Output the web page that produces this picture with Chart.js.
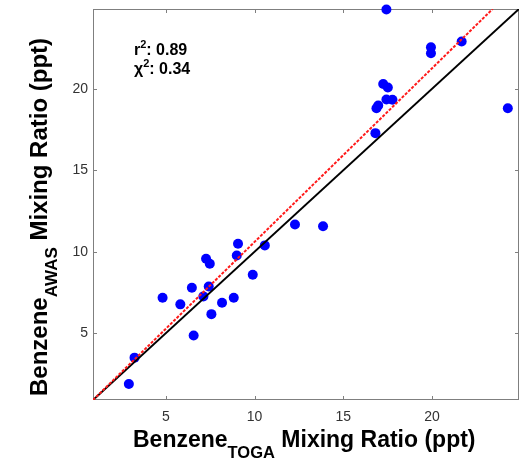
<!DOCTYPE html>
<html>
<head>
<meta charset="utf-8">
<script src="https://cdn.jsdelivr.net/npm/chart.js@4/dist/chart.umd.min.js"></script>
<style>
html,body{margin:0;padding:0;background:#fff;}
#wrap{position:relative;width:520px;height:462px;}
</style>
</head>
<body>
<div id="wrap"><canvas id="c" width="520" height="462"></canvas></div>
<script>
// ---- data ----
const togaValues = [17.43, 21.67, 19.94, 19.94, 17.25, 17.51, 17.43, 17.77, 16.97, 16.87, 24.27, 16.81,
  12.28, 13.86, 10.58, 9.07, 9.00, 7.27, 7.48, 9.90, 6.47, 7.42, 4.82, 7.12, 8.83, 5.82, 8.17, 7.57, 6.57, 3.24, 2.92];
const awasValues = [24.87, 22.90, 22.55, 22.18, 20.30, 20.08, 19.34, 19.33, 18.98, 18.81, 18.81, 17.28,
  11.67, 11.57, 10.39, 10.49, 9.77, 9.57, 9.26, 8.59, 7.79, 7.87, 7.18, 7.26, 7.18, 6.77, 6.87, 6.17, 4.86, 3.50, 1.88];
const axisRange = [0.9, 24.9];
const tickValues = [5, 10, 15, 20];
const fitSlope = 1.066;
const fitIntercept = -0.06;
const statLabels = ["r", "\u03C7"];
const statValues = ["0.89", "0.34"];

const points = togaValues.map((x, i) => ({x: x, y: awasValues[i]}));
const oneToOne = axisRange.map(v => ({x: v, y: v}));
const fitX = [axisRange[0], (axisRange[1] - fitIntercept) / fitSlope];
const fitLine = fitX.map(x => ({x: x, y: fitSlope * x + fitIntercept}));

const FONT = "'Liberation Sans', Arial, Helvetica, sans-serif";
const AXIS_GRAY = '#7f7f7f';

const zeroPad = s => { s.paddingTop = 0; s.paddingBottom = 0; s.paddingLeft = 0; s.paddingRight = 0; };

const decor = {
  id: 'decor',
  beforeDatasetsDraw(chart) {
    const {ctx, chartArea: a, scales} = chart;
    ctx.save();
    ctx.strokeStyle = AXIS_GRAY;
    ctx.lineWidth = 1;
    ctx.strokeRect(a.left + 0.5, a.top + 0.5, a.right - a.left - 1, a.bottom - a.top - 1);
    const tl = 4;
    ctx.beginPath();
    tickValues.forEach(v => {
      const px = Math.round(scales.x.getPixelForValue(v)) + 0.5;
      ctx.moveTo(px, a.bottom); ctx.lineTo(px, a.bottom - tl);
      ctx.moveTo(px, a.top); ctx.lineTo(px, a.top + tl);
      const py = Math.round(scales.y.getPixelForValue(v)) + 0.5;
      ctx.moveTo(a.left, py); ctx.lineTo(a.left + tl, py);
      ctx.moveTo(a.right, py); ctx.lineTo(a.right - tl, py);
    });
    ctx.stroke();
    ctx.restore();
  },
  afterDraw(chart) {
    const {ctx} = chart;
    ctx.save();
    ctx.fillStyle = '#000';
    ctx.textBaseline = 'alphabetic';
    ctx.textAlign = 'left';
    const drawTitle = (main, sub, rest, bigSize, smallSize, subDrop) => {
      const big = "bold " + bigSize + "px " + FONT, small = "bold " + smallSize + "px " + FONT;
      let x = 0;
      ctx.font = big; ctx.fillText(main, x, 0); x += ctx.measureText(main).width;
      ctx.font = small; ctx.fillText(sub, x, subDrop); x += ctx.measureText(sub).width;
      ctx.font = big; ctx.fillText(rest, x, 0);
    };
    ctx.save();
    ctx.translate(133, 447);
    drawTitle("Benzene", "TOGA", " Mixing Ratio (ppt)", 23, 16.5, 11);
    ctx.restore();
    ctx.save();
    ctx.translate(47, 396);
    ctx.rotate(-Math.PI / 2);
    drawTitle("Benzene", "AWAS", " Mixing Ratio (ppt)", 24, 17, 10);
    ctx.restore();
    // stats annotation
    const sf = "bold 16px " + FONT, sup = "bold 11px " + FONT;
    statLabels.forEach((lab, i) => {
      let x = 134, y = 55 + i * 18.5;
      ctx.font = sf; ctx.fillText(lab, x, y); x += ctx.measureText(lab).width;
      ctx.font = sup; ctx.fillText("2", x, y - 7); x += ctx.measureText("2").width;
      ctx.font = sf; ctx.fillText(": " + statValues[i], x, y);
    });
    ctx.restore();
  }
};

new Chart(document.getElementById('c'), {
  type: 'scatter',
  data: {
    datasets: [
      {label: 'fit', type: 'line', data: fitLine, borderColor: '#ff1a1a', borderWidth: 2,
       borderDash: [3, 1.5], pointRadius: 0, fill: false, order: 1},
      {label: '1:1', type: 'line', data: oneToOne, borderColor: '#000', borderWidth: 2,
       pointRadius: 0, fill: false, order: 2},
      {label: 'obs', data: points, backgroundColor: '#0000ff', borderColor: '#0000ff',
       pointRadius: 5, pointHoverRadius: 5, borderWidth: 0, clip: false, order: 3}
    ]
  },
  options: {
    responsive: false,
    animation: false,
    events: [],
    layout: {autoPadding: false, padding: {left: 0, top: 9, right: 1, bottom: 0}},
    plugins: {legend: {display: false}, tooltip: {enabled: false}},
    scales: {
      x: {
        type: 'linear', min: axisRange[0], max: axisRange[1],
        afterBuildTicks: s => { s.ticks = tickValues.map(v => ({value: v})); },
        afterFit: s => { s.height = 62; zeroPad(s); },
        grid: {display: false, drawTicks: false},
        border: {display: false},
        ticks: {padding: 9, color: '#333', font: {family: FONT, size: 14}, maxRotation: 0}
      },
      y: {
        type: 'linear', min: axisRange[0], max: axisRange[1],
        afterBuildTicks: s => { s.ticks = tickValues.map(v => ({value: v})); },
        afterFit: s => { s.width = 93; zeroPad(s); },
        grid: {display: false, drawTicks: false},
        border: {display: false},
        ticks: {padding: 5, color: '#333', font: {family: FONT, size: 14}}
      }
    }
  },
  plugins: [decor]
});
</script>
</body>
</html>
